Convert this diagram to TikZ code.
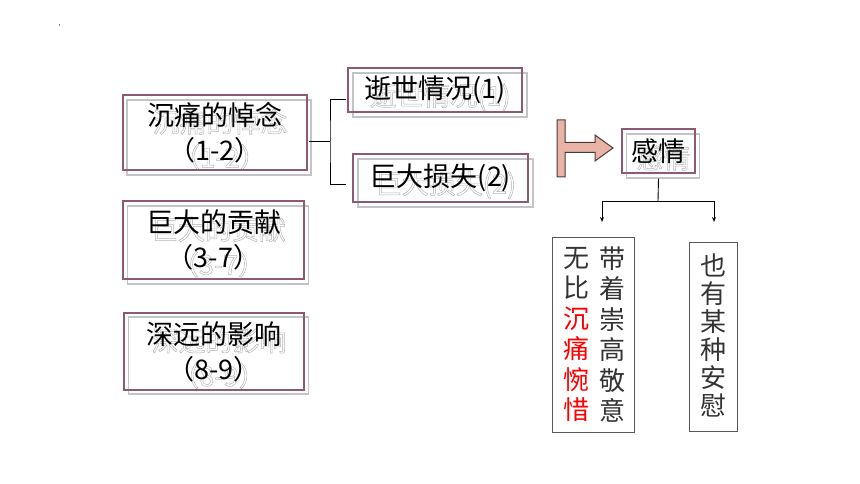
\documentclass[tikz,border=0pt]{standalone}
\usepackage{fontspec}
\usetikzlibrary{arrows.meta}
\newfontfamily\cjk{Noto Sans CJK SC}
\definecolor{mauve}{HTML}{8E5A73}
\definecolor{shgray}{HTML}{C4C4C4}
\definecolor{shtxt}{HTML}{B4B4B4}
\definecolor{arrfill}{HTML}{E9B3A6}
\definecolor{arrdraw}{HTML}{4A3A3A}
\definecolor{vtext}{HTML}{333333}
\newcommand{\shline}[1]{\special{pdf:literal direct 1 Tr 0.5 w}#1\special{pdf:literal direct 0 Tr}}
\begin{document}
\begin{tikzpicture}[x=1pt,y=-1pt,
  mbox/.style={draw=mauve, line width=1.1pt, inner sep=0pt, align=center,
    font=\cjk\fontsize{27}{35}\selectfont, text=black},
  sbox/.style={draw=shgray, line width=1.1pt, inner sep=0pt},
  stext/.style={inner sep=0pt, align=center, text=shtxt,
    font=\cjk\fontsize{27}{35}\selectfont},
  vbox/.style={draw=black!65, line width=0.8pt, inner sep=0pt},
  vcol/.style={inner sep=0pt, align=center, text=vtext},
  conn/.style={draw=black, line width=0.9pt},
  arr/.style={conn, -{Stealth[length=5pt,width=4pt]}}
]
\useasboundingbox (0,0) rectangle (860,484);
\fill[black!45] (58.5,24.5) rectangle (60,26.5);

% ---- left column boxes ----
% box 1
\node[sbox, minimum width=184pt, minimum height=75pt] (s1) at (219,137.5) {};
\node[stext] (t1s) at (220,139.5) {\shline{沉痛的悼念}\\\shline{（1-2）}};
\node[mbox, minimum width=184pt, minimum height=75pt] (b1) at (215,132.5) {沉痛的悼念\\（1-2）};
% box 4
\node[sbox, minimum width=181pt, minimum height=78pt] (s4) at (218,245) {};
\node[stext] (t4s) at (218.5,247) {\shline{巨大的贡献}\\\shline{（3-7）}};
\node[mbox, minimum width=181pt, minimum height=78pt] (b4) at (213.5,240) {巨大的贡献\\（3-7）};
% box 5
\node[sbox, minimum width=180pt, minimum height=77pt] (s5) at (218.5,355.5) {};
\node[stext] (t5s) at (219,358.5) {\shline{深远的影响}\\\shline{（8-9）}};
\node[mbox, minimum width=180pt, minimum height=77pt] (b5) at (214,351.5) {深远的影响\\（8-9）};

% ---- middle boxes ----
\node[sbox, minimum width=174pt, minimum height=44pt] (s2) at (440,95) {};
\node[stext] (t2s) at (440,97) {\shline{逝世情况(1)}};
\node[mbox, minimum width=174pt, minimum height=44pt] (b2) at (435,90) {逝世情况(1)};
\node[sbox, minimum width=175pt, minimum height=48pt] (s3) at (445.5,183) {};
\node[stext] (t3s) at (445.5,185) {\shline{巨大损失(2)}};
\node[mbox, minimum width=175pt, minimum height=48pt] (b3) at (440.5,178) {巨大损失(2)};

% bracket
\coordinate (bj) at (330,141);
\coordinate (bt) at (346,99);
\coordinate (bb) at (346,184);
\draw[conn] (b1.east |- bj) ++(1.5,0) -- (bj);
\draw[conn] (bt) -| (bj) |- (bb);

% ---- T arrow ----
\draw[fill=arrfill, draw=arrdraw, line width=1pt, line join=miter]
  (557,120) -- (565,120) -- (565,142.5) -- (595,142.5) -- (595,135)
  -- (613,148) -- (595,161) -- (595,152.5) -- (565,152.5) -- (565,177)
  -- (557,177) -- cycle;

% ---- 感情 ----
\node[sbox, minimum width=73pt, minimum height=44pt] (sg) at (663,156) {};
\node[stext] (tgs) at (663.5,158) {\shline{感情}};
\node[mbox, minimum width=73pt, minimum height=44pt] (gq) at (658.5,151) {感情};

% ---- vertical boxes ----
\node[vbox, minimum width=82pt, minimum height=195pt] (va) at (593,334.5) {};
\node[vbox, minimum width=48pt, minimum height=189pt] (vb) at (713,336.5) {};
\node[vcol, font=\cjk\fontsize{26}{30.4}\selectfont] (ca) at (576,334.5)
  {无\\比\\\textcolor{red}{沉}\\\textcolor{red}{痛}\\\textcolor{red}{惋}\\\textcolor{red}{惜}};
\node[vcol, font=\cjk\fontsize{26}{30.4}\selectfont] (cb) at (612,334.5)
  {带\\着\\崇\\高\\敬\\意};
\node[vcol, font=\cjk\fontsize{26}{28}\selectfont] (cc) at (713,335.5)
  {也\\有\\某\\种\\安\\慰};

% connectors from 感情
\coordinate (jn) at (658,201);
\coordinate (aL) at (602,222);
\coordinate (aR) at (714,222);
\draw[conn] (sg.south -| gq) -- (jn);
\draw[arr] (jn) -| (aL);
\draw[arr] (jn) -| (aR);
\end{tikzpicture}
\end{document}
